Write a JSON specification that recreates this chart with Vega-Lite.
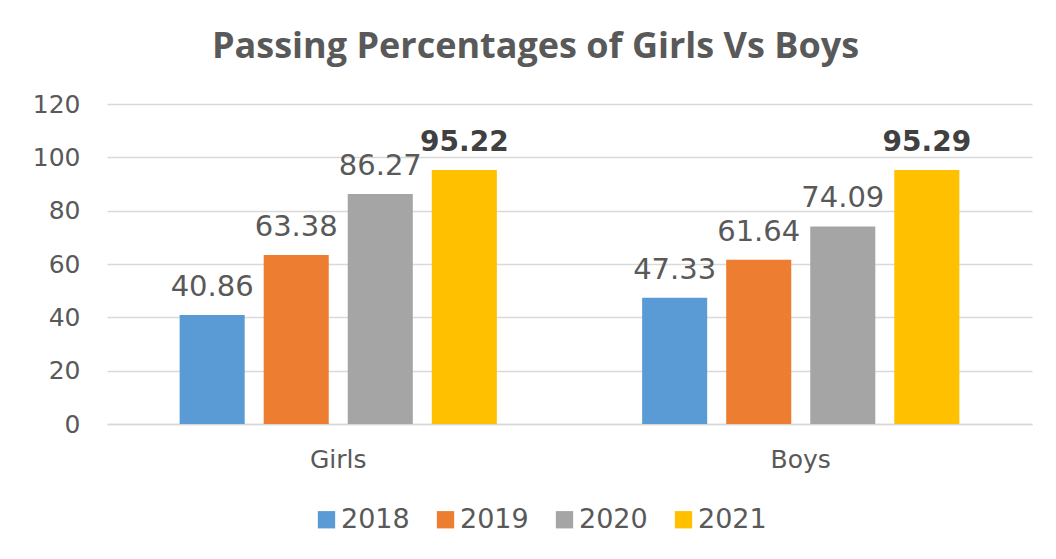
{
  "$schema": "https://vega.github.io/schema/vega-lite/v6.json",
  "autosize": "none",
  "width": 925,
  "height": 320,
  "padding": {"left": 107, "top": 104, "right": 24, "bottom": 135},
  "background": "white",
  "title": {
    "text": "Passing Percentages of Girls Vs Boys",
    "font": "Open Sans",
    "fontSize": 36,
    "fontWeight": "bold",
    "color": "#595959",
    "anchor": "middle",
    "frame": "group",
    "dx": -34,
    "offset": 26
  },
  "data": {
    "values": [
      {"group": "Girls", "year": "2018", "value": 40.86},
      {"group": "Girls", "year": "2019", "value": 63.38},
      {"group": "Girls", "year": "2020", "value": 86.27},
      {"group": "Girls", "year": "2021", "value": 95.22},
      {"group": "Boys", "year": "2018", "value": 47.33},
      {"group": "Boys", "year": "2019", "value": 61.64},
      {"group": "Boys", "year": "2020", "value": 74.09},
      {"group": "Boys", "year": "2021", "value": 95.29}
    ]
  },
  "encoding": {
    "x": {
      "field": "group",
      "type": "nominal",
      "sort": ["Girls", "Boys"],
      "scale": {"paddingInner": 0.273, "paddingOuter": 0.1365},
      "axis": {
        "title": null,
        "labelAngle": 0,
        "labelFont": "DejaVu Sans",
        "labelFontSize": 25,
        "labelColor": "#595959",
        "labelPadding": 23,
        "ticks": false,
        "domain": true,
        "domainColor": "#d9d9d9",
        "domainWidth": 1.5
      }
    },
    "xOffset": {
      "field": "year",
      "type": "nominal",
      "sort": ["2018", "2019", "2020", "2021"],
      "scale": {"paddingInner": 0.226, "paddingOuter": 0.113}
    },
    "y": {
      "field": "value",
      "type": "quantitative",
      "scale": {"domain": [0, 120]},
      "axis": {
        "title": null,
        "values": [0, 20, 40, 60, 80, 100, 120],
        "labelFont": "DejaVu Sans",
        "labelFontSize": 25,
        "labelColor": "#595959",
        "labelPadding": 27,
        "ticks": false,
        "domain": false,
        "grid": true,
        "gridColor": "#d9d9d9",
        "gridWidth": 1.5
      }
    }
  },
  "layer": [
    {
      "mark": {"type": "bar"},
      "encoding": {
        "color": {
          "field": "year",
          "type": "nominal",
          "sort": ["2018", "2019", "2020", "2021"],
          "scale": {
            "domain": ["2018", "2019", "2020", "2021"],
            "range": ["#5b9bd5", "#ed7d31", "#a5a5a5", "#ffc000"]
          },
          "legend": {
            "title": null,
            "orient": "none",
            "direction": "horizontal",
            "legendX": 206,
            "legendY": 402,
            "symbolType": "square",
            "symbolSize": 300,
            "symbolStrokeWidth": 0,
            "labelFont": "DejaVu Sans",
            "labelFontSize": 27,
            "labelColor": "#595959",
            "labelOffset": 1,
            "columnPadding": 22,
            "symbolOpacity": 1
          }
        }
      }
    },
    {
      "transform": [{"filter": "datum.year != '2021'"}],
      "mark": {
        "type": "text",
        "baseline": "alphabetic",
        "dy": -19,
        "font": "DejaVu Sans",
        "fontSize": 29,
        "color": "#595959"
      },
      "encoding": {
        "text": {"field": "value", "type": "quantitative", "format": ".2f"}
      }
    },
    {
      "transform": [{"filter": "datum.year == '2021'"}],
      "mark": {
        "type": "text",
        "baseline": "alphabetic",
        "dy": -19,
        "font": "DejaVu Sans",
        "fontSize": 28,
        "fontWeight": "bold",
        "color": "#404040"
      },
      "encoding": {
        "text": {"field": "value", "type": "quantitative", "format": ".2f"}
      }
    }
  ],
  "config": {
    "view": {"stroke": null}
  }
}
